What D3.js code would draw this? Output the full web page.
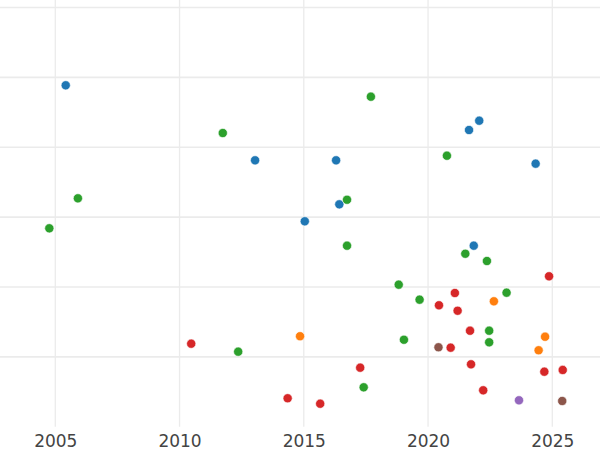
<!DOCTYPE html>
<html>
<head>
<meta charset="utf-8">
<script src="https://cdn.jsdelivr.net/npm/d3@7"></script>
<style>
  html, body { margin: 0; padding: 0; background: #fff; }
  svg { display: block; }
  .tick text { font-family: "DejaVu Sans", sans-serif; font-size: 17px; fill: #444; }
</style>
</head>
<body>
<svg id="chart" width="600" height="450"></svg>
<script>
// Series data: [year, value]
const blueX   = [2005.42, 2013.04, 2016.30, 2016.43, 2015.04, 2022.06, 2021.65, 2024.33, 2021.84];
const blueY   = [48.87, 38.13, 38.13, 31.83, 29.40, 43.80, 42.47, 37.65, 25.91];
const orangeX = [2014.85, 2022.65, 2024.71, 2024.45];
const orangeY = [12.95, 17.95, 12.88, 10.94];
const greenX  = [2011.74, 2005.91, 2004.76, 2017.70, 2020.76, 2016.74, 2012.36, 2016.74, 2021.50, 2022.37, 2018.82, 2023.16, 2019.66, 2022.46, 2019.03, 2022.46, 2017.41];
const greenY  = [42.04, 32.69, 28.40, 47.24, 38.79, 32.49, 10.74, 25.91, 24.76, 23.72, 20.33, 19.18, 18.18, 13.74, 12.45, 12.08, 5.64];
const redX    = [2010.47, 2014.35, 2024.87, 2021.08, 2020.44, 2021.19, 2021.69, 2020.91, 2021.73, 2017.27, 2024.68, 2025.42, 2022.22, 2015.66];
const redY    = [11.88, 4.07, 21.53, 19.14, 17.38, 16.60, 13.74, 11.31, 8.93, 8.45, 7.87, 8.12, 5.21, 3.29];
const purpleX = [2023.66];
const purpleY = [3.78];
const brownX  = [2020.42, 2025.40];
const brownY  = [11.37, 3.68];

const xTicks = [2005, 2010, 2015, 2020, 2025];
const yGrid  = [10, 20, 30, 40, 50, 60];

const seriesNames  = ["blue", "orange", "green", "red", "purple", "brown"];
const seriesColors = ["#1f77b4", "#ff7f0e", "#2ca02c", "#d62728", "#9467bd", "#8c564b"];
const seriesXs = [blueX, orangeX, greenX, redX, purpleX, brownX];
const seriesYs = [blueY, orangeY, greenY, redY, purpleY, brownY];

const W = 600, H = 450;
const plotBottom = 426.7;

const x = d3.scaleLinear().domain([2002.775, 2026.92]).range([0, W]);
const y = d3.scaleLinear().domain([0, 61.08]).range([plotBottom, 0]);

const svg = d3.select("#chart");

// gridlines
svg.append("g").selectAll("line").data(yGrid).join("line")
  .attr("x1", 0).attr("x2", W)
  .attr("y1", d => y(d)).attr("y2", d => y(d))
  .attr("stroke", "#ebebeb").attr("stroke-width", 1.6);

svg.append("g").selectAll("line").data(xTicks).join("line")
  .attr("x1", d => x(d)).attr("x2", d => x(d))
  .attr("y1", 0).attr("y2", plotBottom)
  .attr("stroke", "#ebebeb").attr("stroke-width", 1.3);

// x axis
const xAxis = svg.append("g")
  .attr("transform", `translate(0,${plotBottom})`)
  .call(d3.axisBottom(x).tickValues(xTicks).tickFormat(d3.format("d")).tickSize(0).tickPadding(8));
xAxis.select(".domain").remove();

// points
const pts = [];
seriesNames.forEach((name, i) => {
  seriesXs[i].forEach((xv, j) => pts.push({ s: i, x: xv, y: seriesYs[i][j] }));
});

svg.append("g").selectAll("circle").data(pts).join("circle")
  .attr("cx", d => x(d.x))
  .attr("cy", d => y(d.y))
  .attr("r", 4.6)
  .attr("fill", d => seriesColors[d.s])
  .attr("stroke", "#fff")
  .attr("stroke-width", 0.6);
</script>
</body>
</html>
